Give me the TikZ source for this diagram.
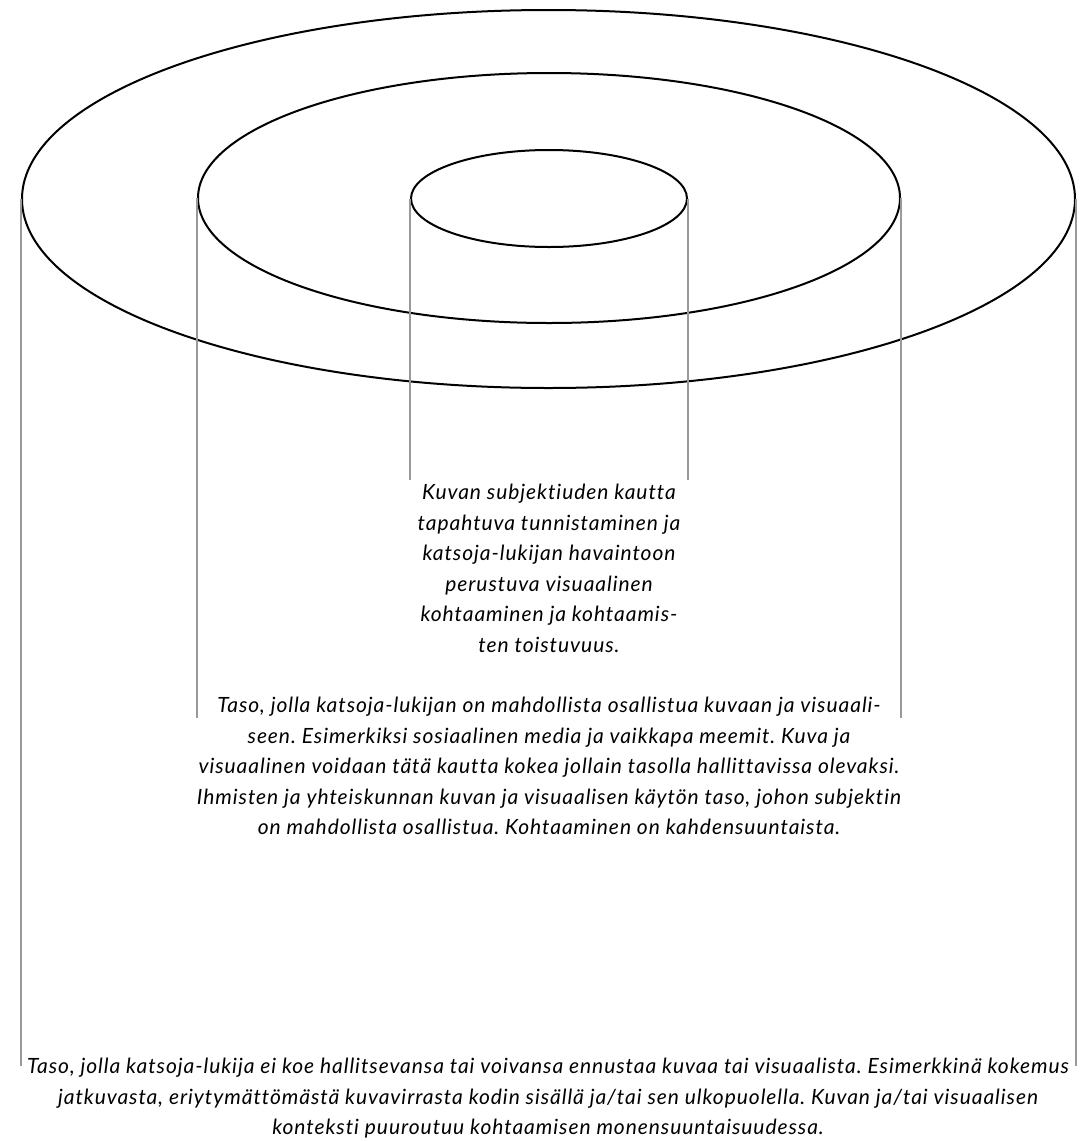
\documentclass[tikz,border=0pt]{standalone}
\usepackage{fontspec}
\setmainfont{Lato}[Ligatures=NoCommon, LetterSpace=4.5]
\usetikzlibrary{shapes.geometric, positioning}

\begin{document}
\frenchspacing
\begin{tikzpicture}[
    x=1pt, y=-1pt,
    ring/.style={ellipse, draw=black, line width=2pt, inner sep=0pt},
    guide/.style={draw=black!40, line width=2pt},
    txt/.style={align=center, inner sep=0pt, anchor=north,
      font=\fontsize{21}{30.5}\selectfont\itshape}
  ]
  \useasboundingbox (0,0) rectangle (1091,1141);

  % Rings, innermost first
  \node[ring, minimum width=276pt, minimum height=97pt]   (inner)  at (549,198.5) {};
  \node[ring, minimum width=702pt, minimum height=250pt]  (middle) at (549,198) {};
  \node[ring, minimum width=1053pt, minimum height=378pt] (outer)  at (548.5,199) {};

  % Where the guide lines stop
  \coordinate (innerend)  at (0,480);
  \coordinate (middleend) at (0,718);
  \coordinate (outerend)  at (0,1066);

  % Texts
  \node[txt] (innertxt) at (549,484) {Kuvan subjektiuden kautta\\
    tapahtuva tunnistaminen ja\\
    katsoja-lukijan havaintoon\\
    perustuva visuaalinen\\
    kohtaaminen ja kohtaamis-\\
    ten toistuvuus.};
  \node[txt] (middletxt) at (549,697) {Taso, jolla katsoja-lukijan on mahdollista osallistua kuvaan ja visuaali-\\
    seen. Esimerkiksi sosiaalinen media ja vaikkapa meemit. Kuva ja\\
    visuaalinen voidaan tätä kautta kokea jollain tasolla hallittavissa olevaksi.\\
    Ihmisten ja yhteiskunnan kuvan ja visuaalisen käytön taso, johon subjektin\\
    on mahdollista osallistua. Kohtaaminen on kahdensuuntaista.};
  \node[txt] (outertxt) at (548,1058) {Taso, jolla katsoja-lukija ei koe hallitsevansa tai voivansa ennustaa kuvaa tai visuaalista. Esimerkkinä kokemus\\
    jatkuvasta, eriytymättömästä kuvavirrasta kodin sisällä ja/tai sen ulkopuolella. Kuvan ja/tai visuaalisen\\
    konteksti puuroutuu kohtaamisen monensuuntaisuudessa.};

  % Guide lines from the rings down to their texts
  \draw[guide] (inner.west)  -- (inner.west |- innerend);
  \draw[guide] (inner.east)  -- (inner.east |- innerend);
  \draw[guide] (middle.west) -- (middle.west |- middleend);
  \draw[guide] (middle.east) -- (middle.east |- middleend);
  \draw[guide] (outer.west)  -- (outer.west |- outerend);
  \draw[guide] (outer.east)  -- (outer.east |- outerend);

\end{tikzpicture}
\end{document}
